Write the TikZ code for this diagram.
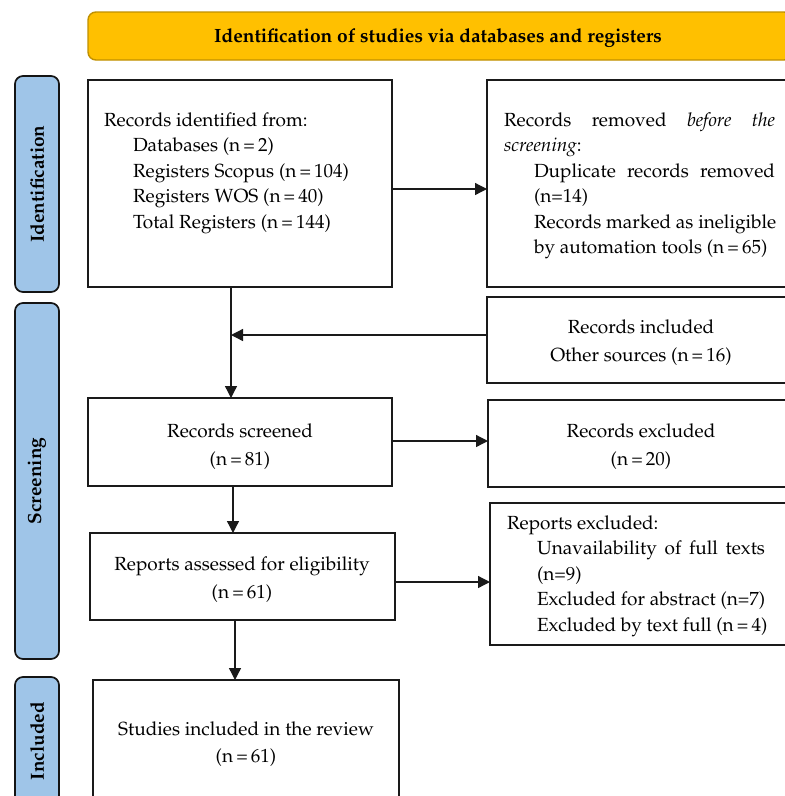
\documentclass[tikz,border=0pt]{standalone}
\usepackage[T1]{fontenc}
\usepackage{mathpazo}
\usetikzlibrary{arrows.meta}
\definecolor{hdrfill}{HTML}{FFC000}
\definecolor{hdrdraw}{HTML}{C09000}
\definecolor{sidefill}{HTML}{9FC5E8}
\definecolor{sidedraw}{HTML}{141414}
\definecolor{linecol}{HTML}{1A1A1A}
\begin{document}
\begin{tikzpicture}[x=1pt,y=-1pt,
  every node/.style={font=\fontsize{19}{25}\selectfont, inner sep=0pt, outer sep=0pt},
  box/.style={draw=linecol, line width=1.7pt, anchor=north west, fill=white},
  sidebar/.style={draw=sidedraw, fill=sidefill, line width=1.7pt, rounded corners=8pt, anchor=north west},
  lab/.style={font=\fontsize{19}{22}\selectfont\bfseries, rotate=90},
  tl/.style={anchor=base west},
  tc/.style={anchor=base},
  arr/.style={draw=linecol, line width=1.3pt, -{Triangle[length=12pt,width=12pt]}}
]
\useasboundingbox (0,0) rectangle (785,796);
\clip (0,0) rectangle (785,796);

% header
\node[draw=hdrdraw, fill=hdrfill, line width=1.4pt, rounded corners=8pt, anchor=north west,
  minimum width=704pt, minimum height=48pt] (hdr) at (88,12) {};
\node[font=\fontsize{19.2}{22}\selectfont\bfseries] (hdrt) at (438,38) {Identification of studies via databases and registers};

% side bars
\node[sidebar, minimum width=44pt, minimum height=216pt] (sb1) at (15,76) {};
\node[lab] (sb1t) at (sb1.center) {Identification};
\node[sidebar, minimum width=44pt, minimum height=356pt] (sb2) at (15,303) {};
\node[lab] (sb2t) at (sb2.center) {Screening};
\node[sidebar, minimum width=44pt, minimum height=140pt] (sb3) at (15,677) {};
\node[lab] (sb3t) at (37,741) {Included};

% boxes
\node[box, minimum width=304pt, minimum height=207pt] (b1) at (88,80) {};
\node[box, minimum width=320pt, minimum height=207pt] (b2) at (487,80) {};
\node[box, minimum width=320pt, minimum height=86pt] (b3) at (487,297) {};
\node[box, minimum width=304pt, minimum height=88pt] (b4) at (88,398) {};
\node[box, minimum width=320pt, minimum height=87pt] (b5) at (488,400) {};
\node[box, minimum width=305pt, minimum height=87pt] (b6) at (90,533) {};
\node[box, minimum width=320pt, minimum height=142pt] (b7) at (490,503) {};
\node[box, minimum width=306pt, minimum height=140pt] (b8) at (93,680) {};

% box 1 text
\node[tl] (t1a) at (104,126) {Records identified from:};
\node[tl] (t1b) at (133,151.5) {Databases (n\,=\,2)};
\node[tl] (t1c) at (133,177) {Registers Scopus (n\,=\,104)};
\node[tl] (t1d) at (133,202.5) {Registers WOS (n\,=\,40)};
\node[tl] (t1e) at (133,228) {Total Registers (n\,=\,144)};

% box 2 text
\node[tl] (t2a) at (504,126) {\makebox[271pt][s]{Records removed \textit{before} \textit{the}}};
\node[tl] (t2b) at (504,151.5) {\textit{screening}:};
\node[tl] (t2c) at (534,177) {\makebox[241pt][s]{Duplicate records removed}};
\node[tl] (t2d) at (534,202.5) {(n=14)};
\node[tl] (t2e) at (534,228) {Records marked as ineligible};
\node[tl] (t2f) at (534,253.5) {by automation tools (n\,=\,65)};

% box 3 text
\node[tc] (t3a) at (641,333) {Records included};
\node[tc] (t3b) at (641,361) {Other sources (n\,=\,16)};

% box 4 text
\node[tc] (t4a) at (240,437) {Records screened};
\node[tc] (t4b) at (240,465) {(n\,=\,81)};

% box 5 text
\node[tc] (t5a) at (641,437) {Records excluded};
\node[tc] (t5b) at (641,465) {(n\,=\,20)};

% box 6 text
\node[tc] (t6a) at (242,570) {Reports assessed for eligibility};
\node[tc] (t6b) at (242,598) {(n\,=\,61)};

% box 7 text
\node[tl] (t7a) at (507,529) {Reports excluded:};
\node[tl] (t7b) at (537,554.5) {\makebox[228pt][s]{Unavailability of full texts}};
\node[tl] (t7c) at (537,580) {(n=9)};
\node[tl] (t7d) at (537,605.5) {Excluded for abstract (n=7)};
\node[tl] (t7e) at (537,631) {Excluded by text full (n\,=\,4)};

% box 8 text
\node[tc] (t8a) at (246,735) {Studies included in the review};
\node[tc] (t8b) at (246,762) {(n\,=\,61)};

% connectors
\coordinate (j1) at (231,335);
\draw[arr] (b1.east |- 0,189) -- (b2.west |- 0,189);
\draw[arr] (231,287) -- (231,398);
\draw[arr] (b3.west |- j1) -- (j1);
\draw[arr] (b4.east |- 0,441) -- (b5.west |- 0,441);
\draw[arr] (233,486) -- (233,533);
\draw[arr] (b6.east |- 0,582) -- (b7.west |- 0,582);
\draw[arr] (235,620) -- (235,680);
\end{tikzpicture}
\end{document}
